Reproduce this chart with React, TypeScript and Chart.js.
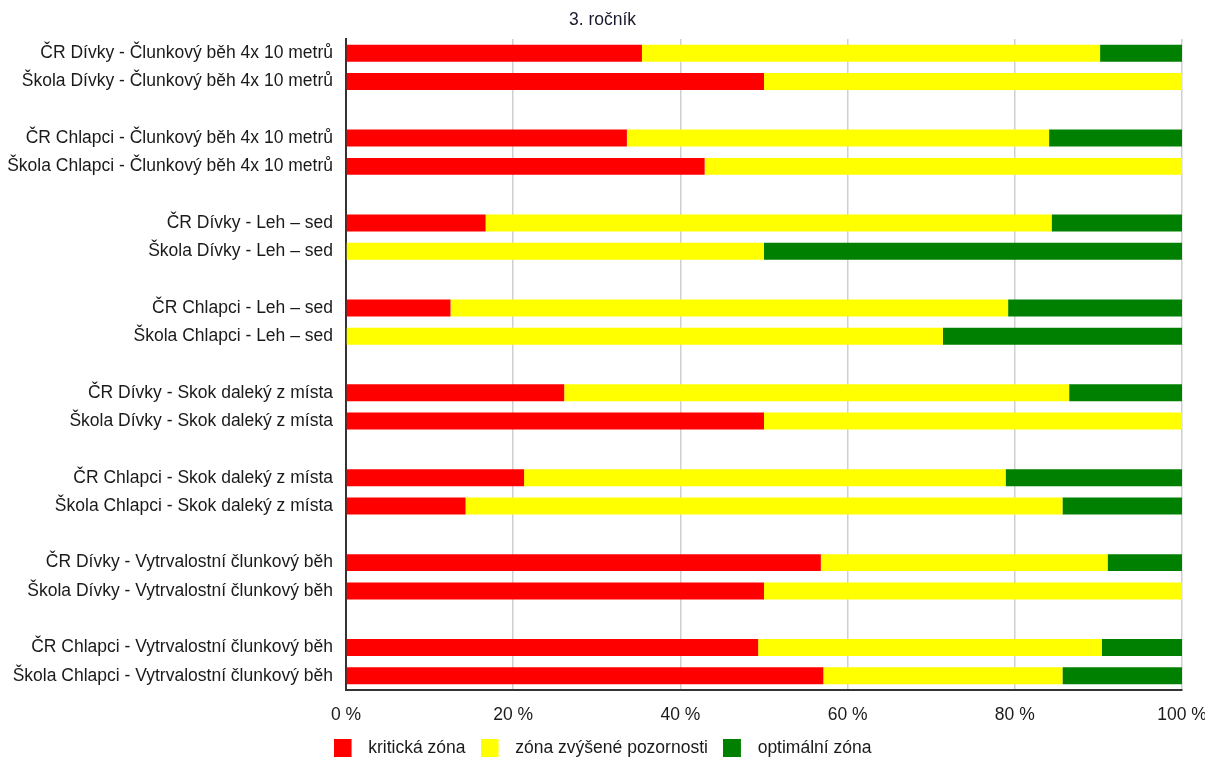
import React, { useEffect, useRef } from 'react';
import { Chart, registerables } from 'chart.js';

Chart.register(...registerables);

const titleText = '3. ročník';

const categories = [
  'ČR Dívky - Člunkový běh 4x 10 metrů',
  'Škola Dívky - Člunkový běh 4x 10 metrů',
  '',
  'ČR Chlapci - Člunkový běh 4x 10 metrů',
  'Škola Chlapci - Člunkový běh 4x 10 metrů',
  '',
  'ČR Dívky - Leh – sed',
  'Škola Dívky - Leh – sed',
  '',
  'ČR Chlapci - Leh – sed',
  'Škola Chlapci - Leh – sed',
  '',
  'ČR Dívky - Skok daleký z místa',
  'Škola Dívky - Skok daleký z místa',
  '',
  'ČR Chlapci - Skok daleký z místa',
  'Škola Chlapci - Skok daleký z místa',
  '',
  'ČR Dívky - Vytrvalostní člunkový běh',
  'Škola Dívky - Vytrvalostní člunkový běh',
  '',
  'ČR Chlapci - Vytrvalostní člunkový běh',
  'Škola Chlapci - Vytrvalostní člunkový běh',
];

const seriesNames = ['kritická zóna', 'zóna zvýšené pozornosti', 'optimální zóna'];
const seriesColors = ['#ff0000', '#ffff00', '#008000'];

const kriticka = [35.4, 50, null, 33.6, 42.9, null, 16.7, 0, null, 12.5, 0, null, 26.1, 50, null, 21.3, 14.3, null, 56.8, 50, null, 49.3, 57.1];
const zvysena = [54.8, 50, null, 50.5, 57.1, null, 67.7, 50, null, 66.7, 71.4, null, 60.4, 50, null, 57.6, 71.4, null, 34.3, 50, null, 41.1, 28.6];
const optimalni = [9.8, 0, null, 15.9, 0, null, 15.6, 50, null, 20.8, 28.6, null, 13.5, 0, null, 21.1, 14.3, null, 8.9, 0, null, 9.6, 14.3];

const xTicks = [0, 20, 40, 60, 80, 100];

const FONT = '"Liberation Sans", Arial, sans-serif';

export default function App() {
  const ref = useRef<HTMLCanvasElement | null>(null);

  useEffect(() => {
    if (!ref.current) return;
    const swatches = seriesColors.map((c) => {
      const cv = document.createElement('canvas');
      cv.width = 26;
      cv.height = 18;
      const cx = cv.getContext('2d')!;
      cx.fillStyle = c;
      cx.fillRect(0, 0, 18, 18);
      return cv;
    });
    const values = [kriticka, zvysena, optimalni];
    const chart = new Chart(ref.current, {
      type: 'bar',
      data: {
        labels: categories,
        datasets: seriesNames.map((name, i) => ({
          label: name,
          data: values[i] as any,
          backgroundColor: seriesColors[i],
          borderWidth: 0,
          categoryPercentage: 1,
          barPercentage: 0.6,
        })),
      },
      options: {
        indexAxis: 'y',
        responsive: false,
        animation: false,
        devicePixelRatio: 1,
        layout: { padding: 0 },
        plugins: {
          title: {
            display: true,
            text: titleText,
            color: '#1a1a2e',
            font: { family: FONT, size: 17.5, weight: 'normal', lineHeight: 1.2 },
            padding: { top: 10, bottom: 8 },
          },
          legend: {
            display: true,
            position: 'bottom',
            labels: {
              color: '#1a1a1a',
              font: { family: FONT, size: 17.5 },
              usePointStyle: true,
              pointStyleWidth: 26,
              padding: 15,
              generateLabels: (c: any) =>
                Chart.defaults.plugins.legend.labels
                  .generateLabels(c)
                  .map((l: any, i: number) => ({ ...l, pointStyle: swatches[i] })),
            },
          },
          tooltip: { enabled: false },
        },
        scales: {
          x: {
            stacked: true,
            min: 0,
            max: 100,
            afterFit: (s: any) => {
              s.height = 34.5;
              s.paddingLeft = 0;
              s.paddingRight = 23;
            },
            afterBuildTicks: (s: any) => {
              s.ticks = xTicks.map((v) => ({ value: v }));
            },
            ticks: {
              color: '#1a1a1a',
              font: { family: FONT, size: 17.5 },
              padding: 14.5,
              maxRotation: 0,
              callback: (v: any) => v + ' %',
            },
            grid: {
              display: true,
              color: '#cfcfcf',
              lineWidth: 1.5,
              drawTicks: false,
            },
            border: { display: true, color: '#333333', width: 2 },
          },
          y: {
            stacked: true,
            afterFit: (s: any) => {
              s.width = 346;
            },
            ticks: {
              autoSkip: false,
              color: '#1a1a1a',
              font: { family: FONT, size: 17.5 },
              padding: 13,
            },
            grid: { display: false, drawTicks: false },
            border: { display: true, color: '#333333', width: 2 },
          },
        },
      },
    });
    return () => chart.destroy();
  }, []);

  return (
    <div
      style={{
        position: 'absolute',
        left: 0,
        top: 0,
        width: 1205,
        height: 758,
        overflow: 'hidden',
        background: '#ffffff',
      }}
    >
      <canvas ref={ref} width={1205} height={767} style={{ display: 'block' }} />
    </div>
  );
}
